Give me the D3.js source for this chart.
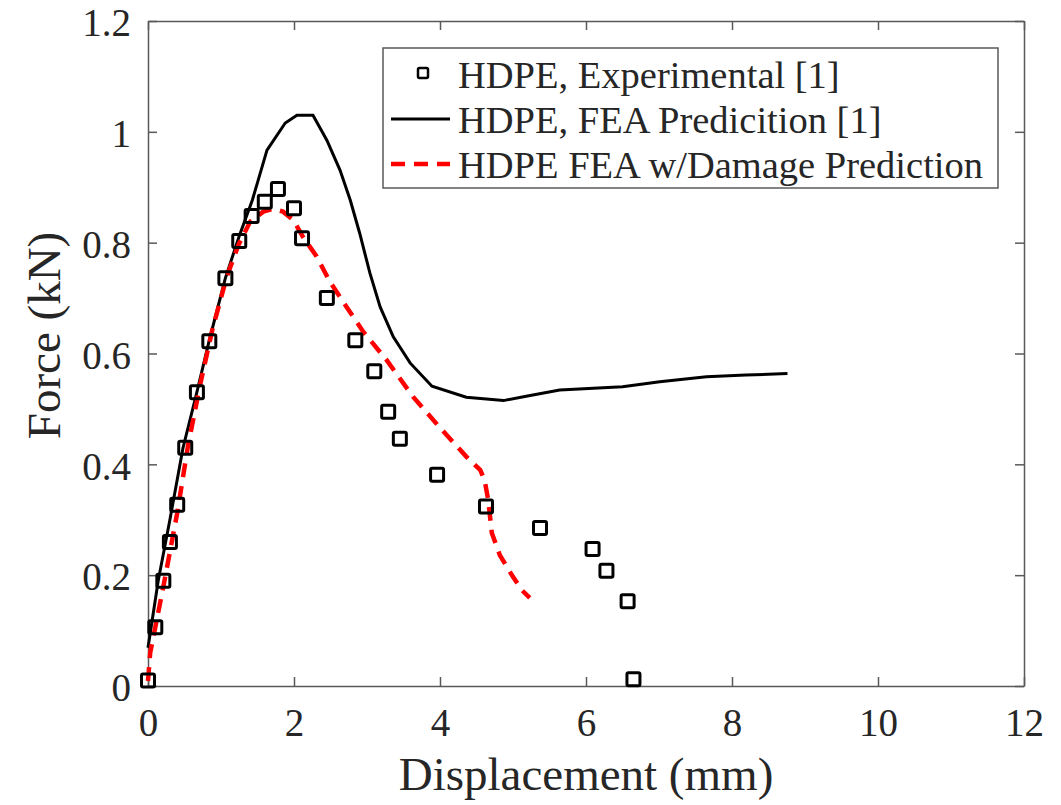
<!DOCTYPE html>
<html>
<head>
<meta charset="utf-8">
<script src="https://cdn.jsdelivr.net/npm/d3@7"></script>
<style>
  body { margin: 0; background: #fff; }
  svg text { font-family: "Liberation Serif", serif; fill: #262626; }
</style>
</head>
<body>
<div id="graf"></div>
<script>
// Experimental points [displacement mm, force kN]
const eksperiment = [
  [0.0, 0.01], [0.10, 0.106], [0.21, 0.19], [0.30, 0.26], [0.40, 0.327],
  [0.51, 0.43], [0.67, 0.53], [0.84, 0.622], [1.06, 0.736], [1.25, 0.803],
  [1.42, 0.848], [1.60, 0.874], [1.78, 0.897], [2.0, 0.862], [2.11, 0.808],
  [2.45, 0.70], [2.84, 0.624], [3.10, 0.568], [3.29, 0.495], [3.45, 0.446],
  [3.96, 0.381], [4.63, 0.324], [5.37, 0.285], [6.09, 0.247], [6.28, 0.208],
  [6.57, 0.153], [6.65, 0.012]
];

// FEA prediction [1]
const feaPredikcija = [
  [0.0, 0.069], [0.14, 0.19], [0.30, 0.30], [0.48, 0.43], [0.66, 0.525],
  [0.84, 0.624], [1.06, 0.736], [1.25, 0.812], [1.43, 0.877], [1.63, 0.967],
  [1.88, 1.016], [2.04, 1.03], [2.26, 1.03], [2.45, 0.985], [2.63, 0.931],
  [2.77, 0.877], [2.90, 0.817], [3.04, 0.745], [3.18, 0.684], [3.36, 0.630],
  [3.59, 0.583], [3.89, 0.541], [4.36, 0.521], [4.87, 0.515], [5.18, 0.523],
  [5.64, 0.534], [6.50, 0.540], [7.01, 0.549], [7.65, 0.558], [8.19, 0.561],
  [8.76, 0.564]
];

// FEA with damage
const feaOstecenje = [
  [0.0, 0.009], [0.03, 0.06], [0.21, 0.179], [0.40, 0.312], [0.55, 0.435],
  [0.72, 0.547], [0.88, 0.642], [1.08, 0.739], [1.24, 0.796], [1.40, 0.838],
  [1.58, 0.856], [1.71, 0.861], [1.85, 0.856], [1.99, 0.841], [2.12, 0.811],
  [2.31, 0.775], [2.49, 0.73], [2.72, 0.684], [2.95, 0.639], [3.27, 0.588],
  [3.63, 0.522], [4.0, 0.466], [4.36, 0.414], [4.55, 0.39], [4.61, 0.372],
  [4.66, 0.336], [4.71, 0.276], [4.82, 0.236], [5.0, 0.197], [5.12, 0.173],
  [5.23, 0.159]
];

const xTikovi = [0, 2, 4, 6, 8, 10, 12];
const yTikovi = [0, 0.2, 0.4, 0.6, 0.8, 1, 1.2];
const legenda = ["HDPE, Experimental [1]", "HDPE, FEA Predicition [1]", "HDPE FEA w/Damage Prediction"];

const dimenzije = {
  sirina: 1061,
  visina: 805,
  margine: { top: 21, right: 37, bottom: 119, left: 148 },
};
dimenzije.grSirina = dimenzije.sirina - dimenzije.margine.left - dimenzije.margine.right;
dimenzije.grVisina = dimenzije.visina - dimenzije.margine.top - dimenzije.margine.bottom;

const okvir = d3.select("#graf")
  .append("svg")
  .attr("width", dimenzije.sirina)
  .attr("height", dimenzije.visina);

const granice = okvir.append("g")
  .attr("transform", `translate(${dimenzije.margine.left}, ${dimenzije.margine.top})`);

const xScale = d3.scaleLinear().domain([0, 12]).range([0, dimenzije.grSirina]);
const yScale = d3.scaleLinear().domain([0, 1.2]).range([dimenzije.grVisina, 0]);

const osBoja = "#595959";
const fmt = d => d3.format("~g")(d);

// axes (ticks inside, mirrored on top/right)
const stilOsi = (g) => {
  g.attr("font-family", null);
  g.select(".domain").attr("stroke", osBoja).attr("stroke-width", 1.5);
  g.selectAll(".tick line").attr("stroke", osBoja).attr("stroke-width", 1.5);
  g.selectAll(".tick text").style("font-size", "39px").attr("fill", "#262626");
};

granice.append("g")
  .attr("transform", `translate(0, ${dimenzije.grVisina})`)
  .call(d3.axisBottom(xScale).tickValues(xTikovi).tickFormat(fmt).tickSizeInner(-9).tickSizeOuter(0).tickPadding(22))
  .call(stilOsi);

granice.append("g")
  .call(d3.axisTop(xScale).tickValues(xTikovi).tickFormat("").tickSizeInner(-9).tickSizeOuter(0))
  .call(stilOsi);

granice.append("g")
  .call(d3.axisLeft(yScale).tickValues(yTikovi).tickFormat(fmt).tickSizeInner(-9).tickSizeOuter(0).tickPadding(17))
  .call(stilOsi)
  .call(g => g.selectAll(".tick text").attr("dy", "0.38em"));

granice.append("g")
  .attr("transform", `translate(${dimenzije.grSirina}, 0)`)
  .call(d3.axisRight(yScale).tickValues(yTikovi).tickFormat("").tickSizeInner(-9).tickSizeOuter(0))
  .call(stilOsi);

// axis labels
granice.append("text")
  .attr("x", dimenzije.grSirina / 2 + 0)
  .attr("y", dimenzije.grVisina + 104)
  .attr("text-anchor", "middle")
  .style("font-size", "47px")
  .text("Displacement (mm)");

granice.append("text")
  .attr("transform", "rotate(-90)")
  .attr("x", -dimenzije.grVisina / 2 + 18)
  .attr("y", -88)
  .attr("text-anchor", "middle")
  .style("font-size", "47px")
  .text("Force (kN)");

const linija = d3.line().x(d => xScale(d[0])).y(d => yScale(d[1]));

granice.append("path")
  .datum(feaPredikcija)
  .attr("d", linija)
  .attr("fill", "none")
  .attr("stroke", "#000")
  .attr("stroke-width", 3);

granice.append("path")
  .datum(feaOstecenje)
  .attr("d", linija)
  .attr("fill", "none")
  .attr("stroke", "#ff0000")
  .attr("stroke-width", 4.5)
  .attr("stroke-dasharray", "14,9");

const kv = 13;
granice.append("g")
  .selectAll("rect")
  .data(eksperiment)
  .enter()
  .append("rect")
  .attr("x", d => xScale(d[0]) - kv / 2)
  .attr("y", d => yScale(d[1]) - kv / 2)
  .attr("width", kv)
  .attr("height", kv)
  .attr("rx", 1.5)
  .attr("fill", "none")
  .attr("stroke", "#000")
  .attr("stroke-width", 3);

// legenda
const lg = granice.append("g")
  .attr("transform", `translate(${383 - dimenzije.margine.left}, ${48 - dimenzije.margine.top})`);

lg.append("rect")
  .attr("width", 615)
  .attr("height", 140)
  .attr("fill", "#fff")
  .attr("stroke", osBoja)
  .attr("stroke-width", 1.5);

lg.append("rect")
  .attr("x", 40 - 5).attr("y", 25 - 5)
  .attr("width", 10).attr("height", 10)
  .attr("rx", 1.5)
  .attr("fill", "none").attr("stroke", "#000").attr("stroke-width", 2.5);

lg.append("line")
  .attr("x1", 8).attr("x2", 67).attr("y1", 71).attr("y2", 71)
  .attr("stroke", "#000").attr("stroke-width", 3);

lg.append("line")
  .attr("x1", 8).attr("x2", 67).attr("y1", 116).attr("y2", 116)
  .attr("stroke", "#ff0000").attr("stroke-width", 4.5)
  .attr("stroke-dasharray", "14,9");

lg.selectAll("text.leg")
  .data(legenda)
  .enter()
  .append("text")
  .attr("class", "leg")
  .attr("x", 75)
  .attr("y", (d, i) => 40 + i * 45)
  .style("font-size", "38.5px")
  .text(d => d);
</script>
</body>
</html>
